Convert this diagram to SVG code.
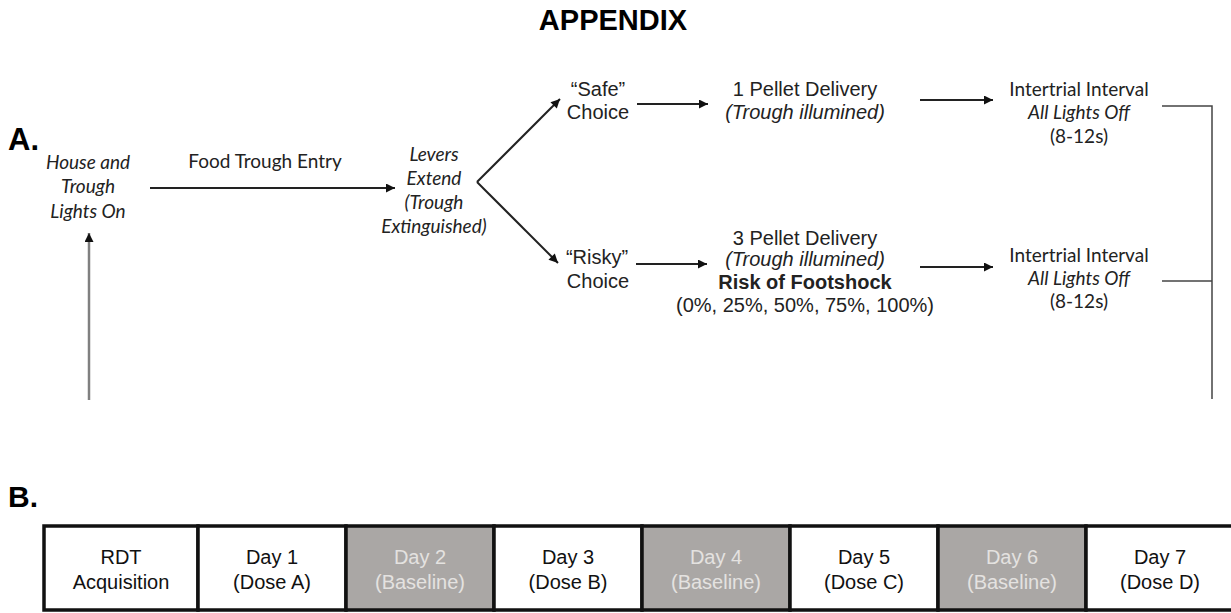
<svg xmlns="http://www.w3.org/2000/svg" width="1231" height="613" viewBox="0 0 1231 613">
<defs>
<marker id="ah" viewBox="0 0 10 10" refX="10" refY="5" markerWidth="11" markerHeight="9" markerUnits="userSpaceOnUse" orient="auto">
<path d="M0,0 L10,5 L0,10 z" fill="#111"/>
</marker>
<style>
.cal{font-family:Lato,"Open Sans",sans-serif;font-size:19px;fill:#222;text-anchor:middle}
.it{font-style:italic}
.ar{font-family:"Liberation Sans",Arial,sans-serif;font-size:20px;fill:#222;text-anchor:middle}
.b{font-weight:bold}
.conn line,.conn polyline{stroke:#222;stroke-width:2;fill:none}
.cell{stroke:#111;stroke-width:3.5}
.w{fill:#fff}
.g{fill:#aaa7a5}
.tw{font-family:"Liberation Sans",Arial,sans-serif;font-size:20px;fill:#111;text-anchor:middle}
.tg{font-family:"Liberation Sans",Arial,sans-serif;font-size:20px;fill:#e4e2e0;text-anchor:middle}
</style>
</defs>
<rect width="1231" height="613" fill="#fff"/>
<text x="613" y="30" font-family="Liberation Sans,Arial,sans-serif" font-size="29" font-weight="bold" text-anchor="middle" fill="#000">APPENDIX</text>
<text x="8" y="150" font-family="Liberation Sans,Arial,sans-serif" font-size="31" font-weight="bold" fill="#000">A.</text>
<text x="8" y="507" font-family="Liberation Sans,Arial,sans-serif" font-size="30" font-weight="bold" fill="#000">B.</text>

<g class="conn">
<line x1="150" y1="188" x2="395" y2="188" marker-end="url(#ah)"/>
<line x1="477" y1="182" x2="560" y2="99" marker-end="url(#ah)"/>
<line x1="477" y1="182" x2="558" y2="263" marker-end="url(#ah)"/>
<line x1="637" y1="104" x2="708" y2="104" marker-end="url(#ah)"/>
<line x1="636" y1="264" x2="707" y2="264" marker-end="url(#ah)"/>
<line x1="920" y1="100" x2="993" y2="100" marker-end="url(#ah)"/>
<line x1="920" y1="267" x2="993" y2="267" marker-end="url(#ah)"/>
<polyline points="1162,106 1212,106 1212,399" style="stroke:#444;stroke-width:1.5"/>
<line x1="1162" y1="281" x2="1212" y2="281" style="stroke:#444;stroke-width:1.5"/>
<line x1="89" y1="400" x2="89" y2="233" style="stroke:#808080;stroke-width:2.5" marker-end="url(#ah)"/>
</g>

<g id="start">
<text class="cal it" x="88" y="169">House and</text>
<text class="cal it" x="88" y="193">Trough</text>
<text class="cal it" x="88" y="218">Lights On</text>
</g>
<g id="label-entry">
<text class="cal" x="265" y="168">Food Trough Entry</text>
</g>
<g id="levers">
<text class="cal it" x="434" y="161">Levers</text>
<text class="cal it" x="434" y="185">Extend</text>
<text class="cal it" x="434" y="209">(Trough</text>
<text class="cal it" x="434" y="233">Extinguished)</text>
</g>
<g id="safe">
<text class="ar" x="598" y="96">“Safe”</text>
<text class="ar" x="598" y="119">Choice</text>
</g>
<g id="risky">
<text class="ar" x="597" y="264">“Risky”</text>
<text class="ar" x="598" y="288">Choice</text>
</g>
<g id="pellet1">
<text class="ar" x="805" y="96">1 Pellet Delivery</text>
<text class="ar it" x="805" y="119">(Trough illumined)</text>
</g>
<g id="pellet3">
<text class="ar" x="805" y="245">3 Pellet Delivery</text>
<text class="ar it" x="805" y="266">(Trough illumined)</text>
<text class="ar b" x="805" y="289">Risk of Footshock</text>
<text class="ar" x="805" y="312" font-size="17">(0%, 25%, 50%, 75%, 100%)</text>
</g>
<g id="iti1">
<text class="cal" x="1079" y="96">Intertrial Interval</text>
<text class="cal it" x="1079" y="119">All Lights Off</text>
<text class="cal" x="1079" y="143">(8-12s)</text>
</g>
<g id="iti2">
<text class="cal" x="1079" y="262">Intertrial Interval</text>
<text class="cal it" x="1079" y="285">All Lights Off</text>
<text class="cal" x="1079" y="308">(8-12s)</text>
</g>

<g id="timeline">
<rect class="cell w" x="44" y="526" width="154" height="84"/>
<rect class="cell w" x="198" y="526" width="148" height="84"/>
<rect class="cell g" x="346" y="526" width="148" height="84"/>
<rect class="cell w" x="494" y="526" width="148" height="84"/>
<rect class="cell g" x="642" y="526" width="148" height="84"/>
<rect class="cell w" x="790" y="526" width="148" height="84"/>
<rect class="cell g" x="938" y="526" width="148" height="84"/>
<rect class="cell w" x="1086" y="526" width="160" height="84"/>
<text class="tw" x="121" y="564">RDT</text><text class="tw" x="121" y="589">Acquisition</text>
<text class="tw" x="272" y="564">Day 1</text><text class="tw" x="272" y="589">(Dose A)</text>
<text class="tg" x="420" y="564">Day 2</text><text class="tg" x="420" y="589">(Baseline)</text>
<text class="tw" x="568" y="564">Day 3</text><text class="tw" x="568" y="589">(Dose B)</text>
<text class="tg" x="716" y="564">Day 4</text><text class="tg" x="716" y="589">(Baseline)</text>
<text class="tw" x="864" y="564">Day 5</text><text class="tw" x="864" y="589">(Dose C)</text>
<text class="tg" x="1012" y="564">Day 6</text><text class="tg" x="1012" y="589">(Baseline)</text>
<text class="tw" x="1160" y="564">Day 7</text><text class="tw" x="1160" y="589">(Dose D)</text>
</g>
</svg>
